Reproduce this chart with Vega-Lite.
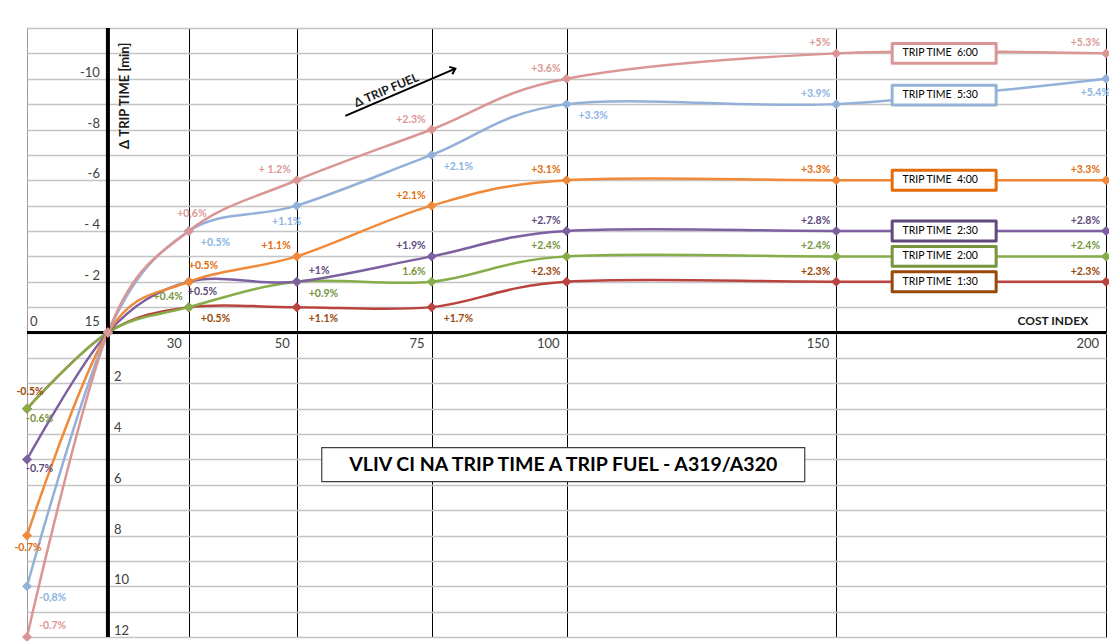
{
  "$schema": "https://vega.github.io/schema/vega-lite/v6.json",
  "width": 1079,
  "height": 609,
  "autosize": {"type": "none"},
  "padding": {"left": 27, "top": 28, "right": 3, "bottom": 4},
  "background": "white",
  "config": {
    "view": {"stroke": "#9a9a9a", "strokeWidth": 1},
    "font": "Lato",
    "axis": {"labels": false, "ticks": false, "domain": false, "titleOpacity": 0}
  },
  "datasets": {
    "series": [
      {"s": "1:30", "ci": 0, "dt": 3, "p": "-0.5%"},
      {"s": "1:30", "ci": 15, "dt": 0},
      {"s": "1:30", "ci": 30, "dt": -1, "p": "+0.5%"},
      {"s": "1:30", "ci": 50, "dt": -1, "p": "+1.1%"},
      {"s": "1:30", "ci": 75, "dt": -1, "p": "+1.7%"},
      {"s": "1:30", "ci": 100, "dt": -2, "p": "+2.3%"},
      {"s": "1:30", "ci": 150, "dt": -2, "p": "+2.3%"},
      {"s": "1:30", "ci": 200, "dt": -2, "p": "+2.3%"},
      {"s": "2:00", "ci": 0, "dt": 3, "p": "-0.6%"},
      {"s": "2:00", "ci": 15, "dt": 0},
      {"s": "2:00", "ci": 30, "dt": -1, "p": "+0.4%"},
      {"s": "2:00", "ci": 50, "dt": -2, "p": "+0.9%"},
      {"s": "2:00", "ci": 75, "dt": -2, "p": "1.6%"},
      {"s": "2:00", "ci": 100, "dt": -3, "p": "+2.4%"},
      {"s": "2:00", "ci": 150, "dt": -3, "p": "+2.4%"},
      {"s": "2:00", "ci": 200, "dt": -3, "p": "+2.4%"},
      {"s": "2:30", "ci": 0, "dt": 5, "p": "-0.7%"},
      {"s": "2:30", "ci": 15, "dt": 0},
      {"s": "2:30", "ci": 30, "dt": -2, "p": "+0.5%"},
      {"s": "2:30", "ci": 50, "dt": -2, "p": "+1%"},
      {"s": "2:30", "ci": 75, "dt": -3, "p": "+1.9%"},
      {"s": "2:30", "ci": 100, "dt": -4, "p": "+2.7%"},
      {"s": "2:30", "ci": 150, "dt": -4, "p": "+2.8%"},
      {"s": "2:30", "ci": 200, "dt": -4, "p": "+2.8%"},
      {"s": "4:00", "ci": 0, "dt": 8, "p": "-0.7%"},
      {"s": "4:00", "ci": 15, "dt": 0},
      {"s": "4:00", "ci": 30, "dt": -2, "p": "+0.5%"},
      {"s": "4:00", "ci": 50, "dt": -3, "p": "+1.1%"},
      {"s": "4:00", "ci": 75, "dt": -5, "p": "+2.1%"},
      {"s": "4:00", "ci": 100, "dt": -6, "p": "+3.1%"},
      {"s": "4:00", "ci": 150, "dt": -6, "p": "+3.3%"},
      {"s": "4:00", "ci": 200, "dt": -6, "p": "+3.3%"},
      {"s": "5:30", "ci": 0, "dt": 10, "p": "-0,8%"},
      {"s": "5:30", "ci": 15, "dt": 0},
      {"s": "5:30", "ci": 30, "dt": -4, "p": "+0.5%"},
      {"s": "5:30", "ci": 50, "dt": -5, "p": "+1.1%"},
      {"s": "5:30", "ci": 75, "dt": -7, "p": "+2.1%"},
      {"s": "5:30", "ci": 100, "dt": -9, "p": "+3.3%"},
      {"s": "5:30", "ci": 150, "dt": -9, "p": "+3.9%"},
      {"s": "5:30", "ci": 200, "dt": -10, "p": "+5.4%"},
      {"s": "6:00", "ci": 0, "dt": 12, "p": "-0.7%"},
      {"s": "6:00", "ci": 15, "dt": 0},
      {"s": "6:00", "ci": 30, "dt": -4, "p": "+0,6%"},
      {"s": "6:00", "ci": 50, "dt": -6, "p": "+ 1.2%"},
      {"s": "6:00", "ci": 75, "dt": -8, "p": "+2.3%"},
      {"s": "6:00", "ci": 100, "dt": -10, "p": "+3.6%"},
      {"s": "6:00", "ci": 150, "dt": -11, "p": "+5%"},
      {"s": "6:00", "ci": 200, "dt": -11, "p": "+5.3%"}
    ],
    "ticksx": [
      {"v": 0, "t": "0"}, {"v": 15, "t": "15"}, {"v": 30, "t": "30"}, {"v": 50, "t": "50"},
      {"v": 75, "t": "75"}, {"v": 100, "t": "100"}, {"v": 150, "t": "150"}, {"v": 200, "t": "200"}
    ],
    "ticksy": [
      {"v": -10, "t": "-10"}, {"v": -8, "t": "-8"}, {"v": -6, "t": "-6"}, {"v": -4, "t": "- 4"}, {"v": -2, "t": "- 2"},
      {"v": 2, "t": "2"}, {"v": 4, "t": "4"}, {"v": 6, "t": "6"}, {"v": 8, "t": "8"}, {"v": 10, "t": "10"}, {"v": 12, "t": "12"}
    ],
    "legend": [
      {"s": "6:00", "t": "TRIP TIME\u00a0 6:00", "lv": -11},
      {"s": "5:30", "t": "TRIP TIME\u00a0 5:30", "lv": -9.35},
      {"s": "4:00", "t": "TRIP TIME\u00a0 4:00", "lv": -6},
      {"s": "2:30", "t": "TRIP TIME\u00a0 2:30", "lv": -4},
      {"s": "2:00", "t": "TRIP TIME\u00a0 2:00", "lv": -3},
      {"s": "1:30", "t": "TRIP TIME\u00a0 1:30", "lv": -2}
    ]
  },
  "data": {"name": "series"},
  "layer": [
    {
      "mark": {"type": "line", "interpolate": "cardinal", "strokeWidth": 2.5},
      "encoding": {
        "x": {"field": "ci", "type": "quantitative", "scale": {"domain": [0, 200], "nice": false, "zero": false},
              "axis": {"values": [30, 50, 75, 100, 150, 200], "tickCount": 40, "grid": true, "gridColor": "#000000", "gridWidth": 1, "gridOpacity": 1, "labels": false, "ticks": false, "domain": false, "title": null}},
        "y": {"field": "dt", "type": "quantitative", "scale": {"domain": [-12, 12], "reverse": true, "nice": false, "zero": false},
              "axis": {"values": [-12, -11, -10, -9, -8, -7, -6, -5, -4, -3, -2, -1, 0, 1, 2, 3, 4, 5, 6, 7, 8, 9, 10, 11, 12], "tickCount": 40, "grid": true, "gridColor": "#c4c4c4", "gridWidth": 1.5, "gridOpacity": 1, "labels": false, "ticks": false, "domain": false, "title": null}},
        "color": {"field": "s", "type": "nominal", "legend": null,
                  "scale": {"domain": ["1:30", "2:00", "2:30", "4:00", "5:30", "6:00"], "range": ["#b9443f", "#86ad4a", "#7d60a0", "#f08a3a", "#93b1d8", "#d99694"]}}
      }
    },
    {
      "data": {"values": [{}]},
      "mark": {"type": "rule", "strokeWidth": 4, "color": "black"},
      "encoding": {"x": {"datum": 15, "type": "quantitative"}}
    },
    {
      "data": {"values": [{}]},
      "mark": {"type": "rule", "strokeWidth": 3, "color": "black"},
      "encoding": {"y": {"datum": 0, "type": "quantitative"}}
    },
    {
      "mark": {"type": "point", "shape": "diamond", "filled": true, "size": 100, "opacity": 1},
      "encoding": {
        "x": {"field": "ci", "type": "quantitative"},
        "y": {"field": "dt", "type": "quantitative"},
        "color": {"field": "s", "type": "nominal", "legend": null,
                  "scale": {"domain": ["1:30", "2:00", "2:30", "4:00", "5:30", "6:00"], "range": ["#b9443f", "#86ad4a", "#7d60a0", "#f08a3a", "#93b1d8", "#d99694"]}}
      }
    },
    {
      "encoding": {
        "x": {"field": "ci", "type": "quantitative"},
        "y": {"field": "dt", "type": "quantitative"},
        "text": {"field": "p"},
        "color": {"field": "s", "type": "nominal", "legend": null,
                  "scale": {"domain": ["1:30", "2:00", "2:30", "4:00", "5:30", "6:00"], "range": ["#984807", "#77933c", "#604a7b", "#e46c0a", "#8db3e2", "#dc9896"]}}
      },
      "layer": [
        {
          "transform": [{"filter": "(datum.ci >= 100 && !(datum.s == '5:30' && (datum.ci == 100 || datum.ci == 200))) || ((datum.ci == 50 || datum.ci == 75) && (datum.s == '6:00' || datum.s == '4:00')) || (datum.s == '2:30' && datum.ci == 75) || (datum.s == '2:00' && (datum.ci == 30 || datum.ci == 75))"}],
          "mark": {"type": "text", "fontWeight": "bold", "fontSize": 10.5, "align": "right", "baseline": "middle", "dx": -6, "dy": -10}
        },
        {
          "transform": [{"filter": "(datum.s == '5:30' && indexof([0, 30, 75, 100], datum.ci) >= 0) || (datum.s == '2:00' && datum.ci == 50) || (datum.s == '1:30' && indexof([30, 50, 75], datum.ci) >= 0)"}],
          "mark": {"type": "text", "fontWeight": "bold", "fontSize": 10.5, "align": "left", "baseline": "middle", "dx": 12, "dy": 12}
        },
        {
          "transform": [{"filter": "(datum.s == '2:30' && (datum.ci == 0 || datum.ci == 30)) || (datum.s == '2:00' && datum.ci == 0)"}],
          "mark": {"type": "text", "fontWeight": "bold", "fontSize": 10.5, "align": "left", "baseline": "middle", "dx": -1, "dy": 10}
        },
        {
          "transform": [{"filter": "(datum.s == '6:00' && datum.ci == 0) || (datum.s == '2:30' && datum.ci == 50)"}],
          "mark": {"type": "text", "fontWeight": "bold", "fontSize": 10.5, "align": "left", "baseline": "middle", "dx": 12, "dy": -11}
        },
        {
          "transform": [{"filter": "datum.s == '4:00' && datum.ci == 30"}],
          "mark": {"type": "text", "fontWeight": "bold", "fontSize": 10.5, "align": "left", "baseline": "middle", "dx": 0, "dy": -16}
        },
        {
          "transform": [{"filter": "(datum.s == '6:00' && datum.ci == 30) || (datum.s == '1:30' && datum.ci == 0)"}],
          "mark": {"type": "text", "fontWeight": "bold", "fontSize": 10.5, "align": "center", "baseline": "middle", "dx": 3, "dy": -17}
        },
        {
          "transform": [{"filter": "datum.s == '5:30' && datum.ci == 50"}],
          "mark": {"type": "text", "fontWeight": "bold", "fontSize": 10.5, "align": "center", "baseline": "middle", "dx": -10, "dy": 16}
        },
        {
          "transform": [{"filter": "datum.s == '4:00' && datum.ci == 0"}],
          "mark": {"type": "text", "fontWeight": "bold", "fontSize": 10.5, "align": "center", "baseline": "middle", "dx": 1, "dy": 12}
        },
        {
          "transform": [{"filter": "datum.s == '5:30' && datum.ci == 200"}],
          "mark": {"type": "text", "fontWeight": "bold", "fontSize": 10.5, "align": "right", "baseline": "middle", "dx": 4, "dy": 14}
        }
      ]
    },
    {
      "data": {"name": "ticksx"},
      "encoding": {
        "x": {"field": "v", "type": "quantitative"},
        "y": {"datum": 0, "type": "quantitative"},
        "text": {"field": "t"}
      },
      "layer": [
        {"transform": [{"filter": "datum.v >= 30"}], "mark": {"type": "text", "fontSize": 13, "color": "#404040", "align": "right", "baseline": "middle", "dx": -7, "dy": 11}},
        {"transform": [{"filter": "datum.v == 15"}], "mark": {"type": "text", "fontSize": 13, "color": "#404040", "align": "right", "baseline": "middle", "dx": -8, "dy": -11}},
        {"transform": [{"filter": "datum.v == 0"}], "mark": {"type": "text", "fontSize": 13, "color": "#404040", "align": "left", "baseline": "middle", "dx": 3, "dy": -11}}
      ]
    },
    {
      "data": {"name": "ticksy"},
      "encoding": {
        "x": {"datum": 15, "type": "quantitative"},
        "y": {"field": "v", "type": "quantitative"},
        "text": {"field": "t"}
      },
      "layer": [
        {"transform": [{"filter": "datum.v < 0"}], "mark": {"type": "text", "fontSize": 13, "color": "#404040", "align": "right", "baseline": "middle", "dx": -8, "dy": -6}},
        {"transform": [{"filter": "datum.v > 0"}], "mark": {"type": "text", "fontSize": 13, "color": "#404040", "align": "left", "baseline": "middle", "dx": 6, "dy": -6}}
      ]
    },
    {
      "data": {"name": "legend"},
      "encoding": {
        "x": {"datum": 170, "type": "quantitative"},
        "y": {"field": "lv", "type": "quantitative"}
      },
      "layer": [
        {
          "mark": {"type": "point", "shape": "M-1,-0.19L1,-0.19L1,0.19L-1,0.19Z", "size": 10816, "fill": "white", "fillOpacity": 1, "strokeWidth": 3, "opacity": 1, "strokeJoin": "round"},
          "encoding": {"stroke": {"field": "s", "type": "nominal", "legend": null,
                                  "scale": {"domain": ["1:30", "2:00", "2:30", "4:00", "5:30", "6:00"], "range": ["#984807", "#77933c", "#604a7b", "#e46c0a", "#95b3d7", "#d99694"]}}}
        },
        {
          "mark": {"type": "text", "fontSize": 10.5, "color": "black", "align": "center", "baseline": "middle", "dx": -4},
          "encoding": {"text": {"field": "t"}}
        }
      ]
    },
    {
      "data": {"values": [{}]},
      "encoding": {
        "x": {"datum": 99.4, "type": "quantitative"},
        "y": {"datum": 5.21, "type": "quantitative"}
      },
      "layer": [
        {"mark": {"type": "point", "shape": "M-1,-0.0704L1,-0.0704L1,0.0704L-1,0.0704Z", "size": 233289, "fill": "white", "fillOpacity": 1, "stroke": "#404040", "strokeWidth": 1.2, "opacity": 1}},
        {"mark": {"type": "text", "text": "VLIV CI NA TRIP TIME A TRIP FUEL - A319/A320", "fontWeight": "bold", "fontSize": 19.5, "color": "black", "align": "center", "baseline": "middle"}}
      ]
    },
    {
      "data": {"values": [{}]},
      "mark": {"type": "text", "text": "Δ TRIP TIME [min]", "fontWeight": "bold", "fontSize": 13, "color": "#1a1a1a", "angle": 270, "align": "center", "baseline": "middle"},
      "encoding": {
        "x": {"datum": 18.2, "type": "quantitative"},
        "y": {"datum": -9.33, "type": "quantitative"}
      }
    },
    {
      "data": {"values": [{}]},
      "mark": {"type": "text", "text": "COST INDEX", "fontWeight": "bold", "fontSize": 12, "color": "#1a1a1a", "align": "right", "baseline": "middle"},
      "encoding": {
        "x": {"datum": 196.7, "type": "quantitative"},
        "y": {"datum": -0.44, "type": "quantitative"}
      }
    },
    {
      "data": {"values": [{}]},
      "mark": {"type": "text", "text": "Δ TRIP FUEL", "fontWeight": "bold", "fontSize": 12, "color": "#1a1a1a", "angle": 337, "align": "center", "baseline": "middle"},
      "encoding": {
        "x": {"datum": 66.6, "type": "quantitative"},
        "y": {"datum": -9.55, "type": "quantitative"}
      }
    },
    {
      "data": {"values": [{}]},
      "mark": {"type": "rule", "strokeWidth": 2, "color": "black"},
      "encoding": {
        "x": {"datum": 59.0, "type": "quantitative"},
        "y": {"datum": -8.54, "type": "quantitative"},
        "x2": {"datum": 79.4},
        "y2": {"datum": -10.4}
      }
    },
    {
      "data": {"values": [{}]},
      "mark": {"type": "point", "shape": "M-1,-0.8L0,0L-1,0.8", "size": 100, "angle": 337, "filled": false, "stroke": "black", "strokeWidth": 2, "opacity": 1},
      "encoding": {
        "x": {"datum": 79.4, "type": "quantitative"},
        "y": {"datum": -10.4, "type": "quantitative"}
      }
    }
  ],
  "resolve": {"scale": {"color": "independent"}}
}
